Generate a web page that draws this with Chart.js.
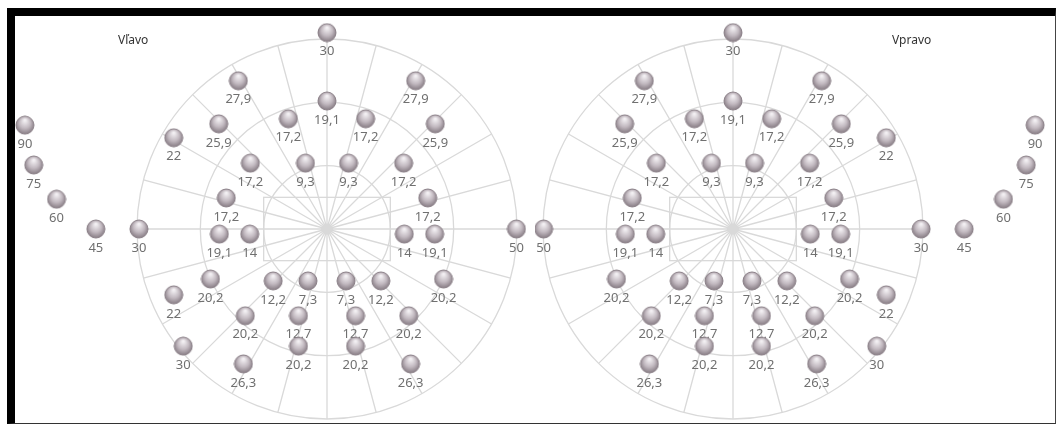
<!DOCTYPE html>
<html>
<head>
<meta charset="utf-8">
<script src="https://cdn.jsdelivr.net/npm/chart.js@4.4.1/dist/chart.umd.min.js"></script>
<style>
  html, body { margin: 0; padding: 0; background: #fff; }
  #frame {
    position: absolute; left: 7px; top: 8px;
    width: 1040px; height: 407px;
    border-left: 8px solid #000; border-top: 8px solid #000;
    border-right: 1px solid #444; border-bottom: 1px solid #333;
    background: #fff;
  }
  .eye { position: absolute; top: 0; width: 520px; height: 407px; }
  #leftEye { left: 0; }
  #rightEye { left: 520px; }
</style>
</head>
<body>
<div id="frame">
  <div class="eye" id="leftEye"><canvas id="leftChart"></canvas></div>
  <div class="eye" id="rightEye"><canvas id="rightChart"></canvas></div>
</div>
<script>
// test points, in degrees (x = temporal side negative on the left eye)
const pointX = [0, -14, 14, 0, -6.1, 6.1, -17.1, 17.1, -24.2, -12.1, -3.4, 3.4, 12.1, -15.9, 15.9,
  -47.7, -46.3, -42.7, -36.5, -29.7, 29.9,
  -17, -12.2, 12.2, 17, -18.4, 18.4, -24.2,
  -8.5, -3, 3, 8.5, -12.9, -4.5, 4.5, 12.9, -4.5, 4.5, -22.7, -13.2, 13.2];
const pointY = [31, 23.4, 23.4, 20.2, 17.4, 17.4, 16.6, 16.6, 14.4, 10.4, 10.4, 10.4, 10.4, 4.9, 4.9,
  16.4, 10.1, 4.7, 0, 0, 0,
  -0.8, -0.8, -0.8, -0.8, -7.9, -7.9, -10.4,
  -8.2, -8.2, -8.2, -8.2, -13.7, -13.7, -13.7, -13.7, -18.5, -18.5, -18.5, -21.3, -21.3];
const pointLabels = ['30', '27,9', '27,9', '19,1', '17,2', '17,2', '25,9', '25,9', '22', '17,2', '9,3', '9,3', '17,2', '17,2', '17,2',
  '90', '75', '60', '45', '30', '50',
  '19,1', '14', '14', '19,1', '20,2', '20,2', '22',
  '12,2', '7,3', '7,3', '12,2', '20,2', '12,7', '12,7', '20,2', '20,2', '20,2', '30', '26,3', '26,3'];

// grid
const rings = [10, 20, 30];
const spokeStep = 15;
const boxHalf = [10, 5];

function makeSphere(r) {
  const c = document.createElement('canvas');
  const s = r * 2 + 2;
  c.width = s; c.height = s;
  const g = c.getContext('2d');
  const m = s / 2;
  const grad = g.createRadialGradient(m, m - r * 0.55, r * 0.1, m, m, r * 1.15);
  grad.addColorStop(0, '#f2eff2');
  grad.addColorStop(0.5, '#c2b9c0');
  grad.addColorStop(1, '#7a6f77');
  g.beginPath();
  g.arc(m, m, r, 0, Math.PI * 2);
  g.fillStyle = grad;
  g.fill();
  g.lineWidth = 1;
  g.strokeStyle = '#8b8088';
  g.stroke();
  return c;
}
const sphere = makeSphere(9);

const polarGrid = {
  id: 'polarGrid',
  beforeDatasetsDraw(chart, args, opts) {
    const { ctx, scales: { x, y } } = chart;
    const cx = x.getPixelForValue(0);
    const cy = y.getPixelForValue(0);
    const px = v => Math.abs(x.getPixelForValue(v) - cx);
    ctx.save();
    ctx.strokeStyle = '#d9d9d9';
    ctx.lineWidth = 1.3;
    rings.forEach(r => {
      ctx.beginPath();
      ctx.arc(cx, cy, px(r), 0, Math.PI * 2);
      ctx.stroke();
    });
    const R = px(rings[rings.length - 1]);
    ctx.beginPath();
    for (let a = 0; a < 360; a += spokeStep) {
      const t = a * Math.PI / 180;
      ctx.moveTo(cx, cy);
      ctx.lineTo(cx + R * Math.cos(t), cy + R * Math.sin(t));
    }
    ctx.stroke();
    const bx = px(boxHalf[0]), by = px(boxHalf[1]);
    ctx.strokeRect(cx - bx, cy - by, bx * 2, by * 2);

    // value labels under each point
    ctx.fillStyle = '#707070';
    ctx.font = '13px "Noto Sans", sans-serif';
    ctx.textAlign = 'center';
    ctx.textBaseline = 'middle';
    chart.getDatasetMeta(0).data.forEach((el, i) => {
      ctx.fillText(pointLabels[i], el.x, el.y + 19);
    });

    // eye title
    ctx.fillStyle = '#333';
    ctx.font = '12px "Noto Sans", sans-serif';
    ctx.textAlign = 'left';
    ctx.fillText(opts.title, x.getPixelForValue(opts.titleX), y.getPixelForValue(opts.titleY));
    ctx.restore();
  }
};

function buildEye(canvasId, title, titleX, xMin, xMax, reverse) {
  const ctx = document.getElementById(canvasId).getContext('2d');
  return new Chart(ctx, {
    type: 'scatter',
    data: {
      datasets: [{
        data: pointX.map((v, i) => ({ x: v, y: pointY[i] })),
        pointStyle: sphere,
        pointRadius: 9,
        clip: false
      }]
    },
    options: {
      responsive: true,
      maintainAspectRatio: false,
      animation: false,
      events: [],
      layout: { padding: 0, autoPadding: false },
      plugins: {
        legend: { display: false },
        tooltip: { enabled: false },
        polarGrid: { title: title, titleX: titleX, titleY: 29.8 }
      },
      scales: {
        x: { type: 'linear', min: xMin, max: xMax, reverse: reverse, display: false },
        y: { type: 'linear', min: -30.63, max: 33.63, display: false }
      }
    },
    plugins: [polarGrid]
  });
}

buildEye('leftChart', 'Vľavo', -33, -49.26, 32.84, false);
buildEye('rightChart', 'Vpravo', -25.1, -50.84, 31.26, true);
</script>
</body>
</html>
